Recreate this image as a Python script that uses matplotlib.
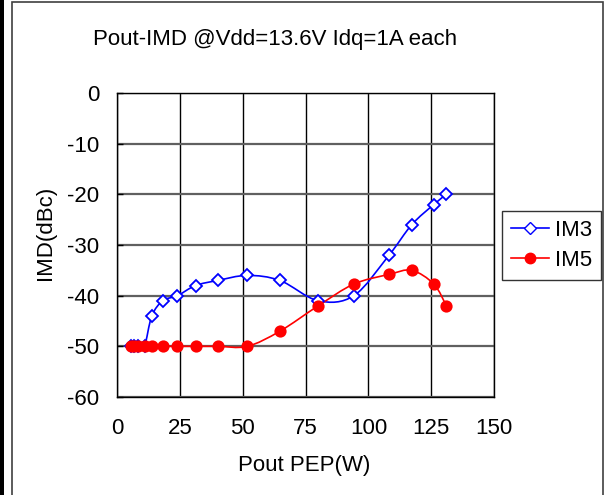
import matplotlib
matplotlib.use("Agg")
import matplotlib.pyplot as plt
import numpy as np
from matplotlib.path import Path
from matplotlib.patches import PathPatch, Rectangle
from matplotlib.lines import Line2D

plt.rcParams['font.family'] = ['Liberation Sans', 'DejaVu Sans']
plt.rcParams['axes.unicode_minus'] = False

pout = [5.4, 6.8, 8.5, 10.9, 13.8, 18.2, 24.0, 31.2, 40.0, 51.8, 64.8, 80.0, 94.2, 108.2, 117.2, 126.0, 131.0]
im3 = [-50, -50, -50, -50, -44, -41, -40, -38, -37, -36, -37, -41, -40, -32, -26, -22, -20]
im5 = [-50, -50, -50, -50, -50, -50, -50, -50, -50, -50, -47, -42, -37.7, -35.8, -35, -37.7, -42]
xticks = [0, 25, 50, 75, 100, 125, 150]
yticks = [0, -10, -20, -30, -40, -50, -60]

FS = 16


def smooth_path(x, y):
    pts = np.column_stack([x, y]).astype(float)
    n = len(pts)
    verts = [pts[0]]
    codes = [Path.MOVETO]
    for i in range(n - 1):
        p0 = pts[i - 1] if i > 0 else pts[i]
        p1 = pts[i]
        p2 = pts[i + 1]
        p3 = pts[i + 2] if i + 2 < n else pts[i + 1]
        c1 = p1 + (p2 - p0) / 6.0
        c2 = p2 - (p3 - p1) / 6.0
        verts += [c1, c2, p2]
        codes += [Path.CURVE4] * 3
    return Path(verts, codes)


fig = plt.figure(figsize=(6.1, 4.95), dpi=100)
ax = fig.add_axes([0.192, 0.198, 0.618, 0.614])

for vals, col, mk, mfc, ms in [(im3, 'blue', 'D', 'white', 6.5), (im5, 'red', 'o', 'red', 7.5)]:
    ax.add_patch(PathPatch(smooth_path(pout, vals), facecolor='none', edgecolor=col, lw=1.2, zorder=3))
    ax.plot(pout, vals, linestyle='none', marker=mk, color=col, markerfacecolor=mfc,
            markeredgecolor=col, markersize=ms, markeredgewidth=1.3, zorder=4)

ax.set_xlim(0, 150)
ax.set_ylim(-60, 0)
ax.set_xticks(xticks)
ax.set_yticks(yticks)
ax.tick_params(axis='both', labelsize=FS, direction='in', length=4, width=1)
ax.tick_params(axis='y', pad=13)
ax.tick_params(axis='x', length=0, pad=15)
ax.xaxis.grid(True, color='black', lw=1.0)
ax.yaxis.grid(True, color='#606060', lw=1.6)
ax.set_axisbelow(True)
for s in ax.spines.values():
    s.set_color('black')
    s.set_linewidth(1.0)

fig.text(0.451, 0.921, 'Pout-IMD @Vdd=13.6V Idq=1A each', ha='center', va='center', fontsize=FS)
fig.text(0.075, 0.529, 'IMD(dBc)', ha='center', va='center', rotation=90, fontsize=FS)
fig.text(0.499, 0.06, 'Pout PEP(W)', ha='center', va='center', fontsize=FS)

handles = [
    Line2D([], [], color='blue', marker='D', markerfacecolor='white', markeredgecolor='blue', markersize=6.5, lw=1.2),
    Line2D([], [], color='red', marker='o', markerfacecolor='red', markersize=7.5, lw=1.2),
]
leg = fig.legend(handles, ['IM3', 'IM5'], loc='upper left', bbox_to_anchor=(0.823, 0.574),
                 fontsize=FS, frameon=True, fancybox=False, edgecolor='black', handlelength=1.7,
                 borderaxespad=0, borderpad=0.4, labelspacing=0.4, handletextpad=0.3)
leg.get_frame().set_linewidth(1.0)

fig.patches.append(Rectangle((0, 0), 4 / 610, 1, transform=fig.transFigure, facecolor='black', edgecolor='none'))
fig.patches.append(Rectangle((12 / 610, -0.1), (603 - 12) / 610, 1.1 - 2 / 495, transform=fig.transFigure,
                             facecolor='none', edgecolor='#404040', lw=1.2))

fig.savefig('out.png', dpi=100)
